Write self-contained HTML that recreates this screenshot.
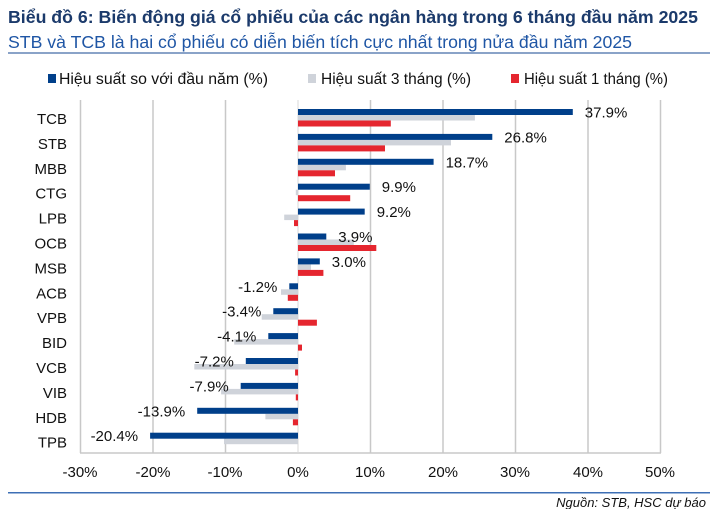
<!DOCTYPE html>
<html><head><meta charset="utf-8"><style>
body{margin:0;background:#fff;width:710px;height:509px;overflow:hidden;font-family:"Liberation Sans",sans-serif}
</style></head><body>
<svg width="710" height="509" xmlns="http://www.w3.org/2000/svg" font-family="Liberation Sans, sans-serif">
<text x="8" y="23" font-size="17.6" font-weight="bold" fill="#1b3a6b" textLength="690" lengthAdjust="spacingAndGlyphs">Biểu đồ 6: Biến động giá cổ phiếu của các ngân hàng trong 6 tháng đầu năm 2025</text>
<text x="8" y="48" font-size="17.5" fill="#1f56a5" textLength="624" lengthAdjust="spacingAndGlyphs">STB và TCB là hai cổ phiếu có diễn biến tích cực nhất trong nửa đầu năm 2025</text>
<rect x="8" y="52" width="702" height="2" fill="#8aa3c8"/>
<rect x="48" y="74" width="8" height="9" fill="#003f8a"/>
<text x="59" y="84" font-size="15.5" fill="#111" textLength="209" lengthAdjust="spacingAndGlyphs">Hiệu suất so với đầu năm (%)</text>
<rect x="308" y="74" width="8" height="9" fill="#cfd3da"/>
<text x="321" y="84" font-size="15.5" fill="#111" textLength="150" lengthAdjust="spacingAndGlyphs">Hiệu suất 3 tháng (%)</text>
<rect x="511" y="74" width="8" height="9" fill="#e5262f"/>
<text x="524" y="84" font-size="15.5" fill="#111" textLength="144" lengthAdjust="spacingAndGlyphs">Hiệu suất 1 tháng (%)</text>
<g stroke="#c8c8c8" stroke-width="1.5">
<line x1="80.5" y1="100" x2="80.5" y2="453"/><line x1="153" y1="100" x2="153" y2="453"/><line x1="225.5" y1="100" x2="225.5" y2="453"/>
<line x1="370.5" y1="100" x2="370.5" y2="453"/><line x1="443" y1="100" x2="443" y2="453"/><line x1="515.5" y1="100" x2="515.5" y2="453"/>
<line x1="588" y1="100" x2="588" y2="453"/><line x1="660.5" y1="100" x2="660.5" y2="453"/>
<line x1="80" y1="453" x2="661" y2="453"/>
</g>
<line x1="298" y1="100" x2="298" y2="453" stroke="#d8d8d8" stroke-width="1"/>
<g>
<rect x="298" y="115" width="176.9" height="5.5" fill="#cfd3da"/><rect x="298" y="109" width="274.8" height="6" fill="#003f8a"/><rect x="298" y="120.5" width="92.8" height="6" fill="#e5262f"/>
<rect x="298" y="139.9" width="153" height="5.5" fill="#cfd3da"/><rect x="298" y="133.9" width="194.3" height="6" fill="#003f8a"/><rect x="298" y="145.4" width="87" height="6" fill="#e5262f"/>
<rect x="298" y="164.8" width="47.9" height="5.5" fill="#cfd3da"/><rect x="298" y="158.8" width="135.6" height="6" fill="#003f8a"/><rect x="298" y="170.3" width="37" height="6" fill="#e5262f"/>
<rect x="295.8" y="189.7" width="2.2" height="5.5" fill="#cfd3da"/><rect x="298" y="183.7" width="71.8" height="6" fill="#003f8a"/><rect x="298" y="195.2" width="52.2" height="6" fill="#e5262f"/>
<rect x="284.2" y="214.6" width="13.8" height="5.5" fill="#cfd3da"/><rect x="298" y="208.6" width="66.7" height="6" fill="#003f8a"/><rect x="294" y="220.1" width="4" height="6" fill="#e5262f"/>
<rect x="298" y="239.5" width="55.8" height="5.5" fill="#cfd3da"/><rect x="298" y="233.5" width="28.3" height="6" fill="#003f8a"/><rect x="298" y="245" width="78.3" height="6" fill="#e5262f"/>
<rect x="298" y="264.4" width="13" height="5.5" fill="#cfd3da"/><rect x="298" y="258.4" width="21.8" height="6" fill="#003f8a"/><rect x="298" y="269.9" width="25.4" height="6" fill="#e5262f"/>
<rect x="281" y="289.3" width="17" height="5.5" fill="#cfd3da"/><rect x="289.3" y="283.3" width="8.7" height="6" fill="#003f8a"/><rect x="287.8" y="294.8" width="10.2" height="6" fill="#e5262f"/>
<rect x="261.7" y="314.2" width="36.3" height="5.5" fill="#cfd3da"/><rect x="273.3" y="308.2" width="24.7" height="6" fill="#003f8a"/><rect x="298" y="319.7" width="18.9" height="6" fill="#e5262f"/>
<rect x="234.2" y="339.1" width="63.8" height="5.5" fill="#cfd3da"/><rect x="268.3" y="333.1" width="29.7" height="6" fill="#003f8a"/><rect x="298" y="344.6" width="4" height="6" fill="#e5262f"/>
<rect x="194.3" y="364" width="103.7" height="5.5" fill="#cfd3da"/><rect x="245.8" y="358" width="52.2" height="6" fill="#003f8a"/><rect x="295.1" y="369.5" width="2.9" height="6" fill="#e5262f"/>
<rect x="221.1" y="388.9" width="76.9" height="5.5" fill="#cfd3da"/><rect x="240.7" y="382.9" width="57.3" height="6" fill="#003f8a"/><rect x="295.8" y="394.4" width="2.2" height="6" fill="#e5262f"/>
<rect x="265.4" y="413.8" width="32.6" height="5.5" fill="#cfd3da"/><rect x="197.2" y="407.8" width="100.8" height="6" fill="#003f8a"/><rect x="292.9" y="419.3" width="5.1" height="6" fill="#e5262f"/>
<rect x="224" y="438.7" width="74" height="5.5" fill="#cfd3da"/><rect x="150.1" y="432.7" width="147.9" height="6" fill="#003f8a"/>
</g>
<g font-size="15" text-anchor="end" fill="#111">
<text x="67" y="124">TCB</text><text x="67" y="148.9">STB</text><text x="67" y="173.8">MBB</text><text x="67" y="198.7">CTG</text>
<text x="67" y="223.6">LPB</text><text x="67" y="248.5">OCB</text><text x="67" y="273.4">MSB</text><text x="67" y="298.3">ACB</text>
<text x="67" y="323.2">VPB</text><text x="67" y="348.1">BID</text><text x="67" y="373">VCB</text><text x="67" y="397.9">VIB</text>
<text x="67" y="422.8">HDB</text><text x="67" y="447.7">TPB</text>
</g>
<g font-size="15" fill="#111">
<text x="584.8" y="117.5">37.9%</text><text x="504.3" y="142.4">26.8%</text><text x="445.6" y="167.3">18.7%</text>
<text x="381.8" y="192.2">9.9%</text><text x="376.7" y="217.1">9.2%</text><text x="338.3" y="242">3.9%</text><text x="331.8" y="266.9">3.0%</text>
</g>
<g font-size="15" fill="#111" text-anchor="end">
<text x="277.3" y="291.8">-1.2%</text><text x="261.3" y="316.7">-3.4%</text><text x="256.3" y="341.6">-4.1%</text>
<text x="233.8" y="366.5">-7.2%</text><text x="228.7" y="391.4">-7.9%</text><text x="185.2" y="416.3">-13.9%</text><text x="138.1" y="441.2">-20.4%</text>
</g>
<g font-size="15" fill="#111" text-anchor="middle">
<text x="80" y="477">-30%</text><text x="153" y="477">-20%</text><text x="225" y="477">-10%</text><text x="298" y="477">0%</text>
<text x="370" y="477">10%</text><text x="443" y="477">20%</text><text x="515" y="477">30%</text><text x="588" y="477">40%</text><text x="660" y="477">50%</text>
</g>
<rect x="8" y="492" width="702" height="1.5" fill="#3d6fb5"/>
<text x="706" y="507" font-size="13" font-style="italic" text-anchor="end" fill="#111">Nguồn: STB, HSC dự báo</text>
</svg>
</body></html>
